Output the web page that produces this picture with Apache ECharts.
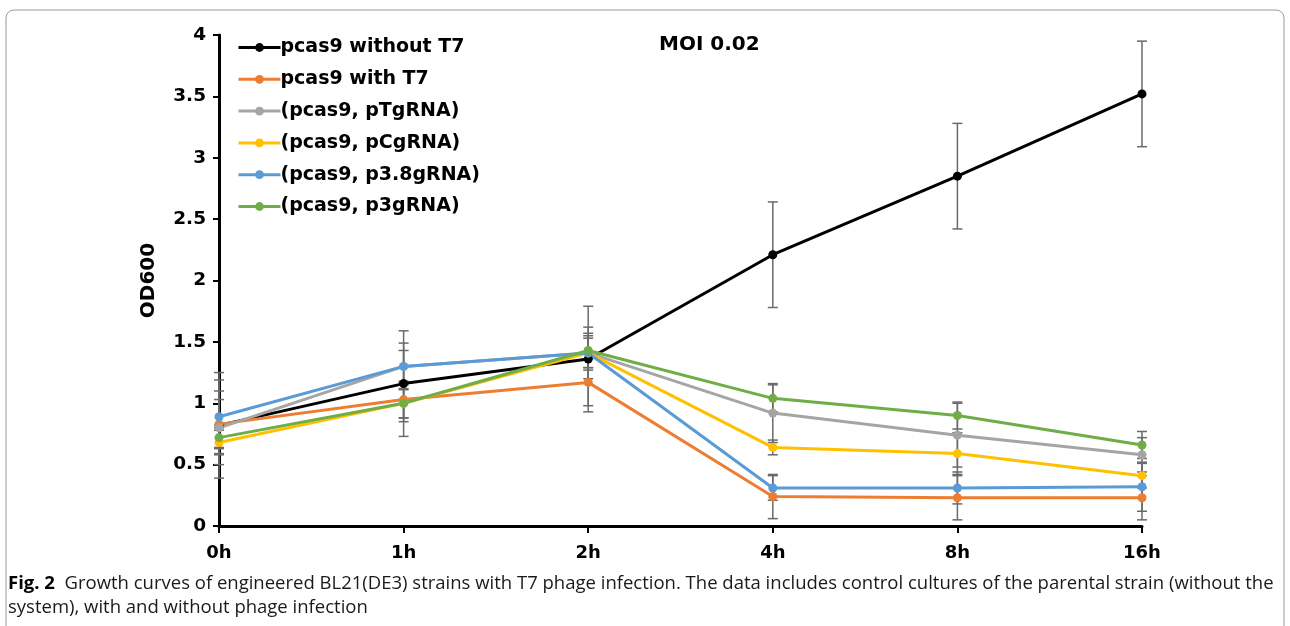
<!DOCTYPE html>
<html>
<head>
<meta charset="utf-8">
<script src="https://cdn.jsdelivr.net/npm/echarts@6/dist/echarts.min.js"></script>
<style>
html,body{margin:0;padding:0;background:#fff;}
#chart{width:1290px;height:626px;}
</style>
</head>
<body>
<div id="chart"></div>
<script>
const categories = ['0h', '1h', '2h', '4h', '8h', '16h'];
const yTicks = ['0', '0.5', '1', '1.5', '2', '2.5', '3', '3.5', '4'];
const seriesNames = ['pcas9 without T7', 'pcas9 with T7', '(pcas9, pTgRNA)', '(pcas9, pCgRNA)', '(pcas9, p3.8gRNA)', '(pcas9, p3gRNA)'];
const withoutT7 = [0.82, 1.16, 1.36, 2.21, 2.85, 3.52];
const withT7 = [0.83, 1.03, 1.17, 0.24, 0.23, 0.23];
const pTgRNA = [0.80, 1.30, 1.41, 0.92, 0.74, 0.58];
const pCgRNA = [0.68, 1.00, 1.41, 0.64, 0.59, 0.41];
const p38gRNA = [0.89, 1.30, 1.41, 0.31, 0.31, 0.32];
const p3gRNA = [0.72, 1.00, 1.43, 1.04, 0.90, 0.66];
const errWithoutT7 = [0.43, 0.43, 0.43, 0.43, 0.43, 0.43];
const errWithT7 = [0.20, 0.15, 0.19, 0.18, 0.18, 0.18];
const errTg = [0.30, 0.13, 0.21, 0.24, 0.26, 0.14];
const errCg = [0.10, 0.15, 0.12, 0.06, 0.17, 0.10];
const errP38 = [0.30, 0.19, 0.14, 0.10, 0.13, 0.20];
const errP3 = [0.08, 0.12, 0.14, 0.11, 0.11, 0.11];
const colors = ['#000000', '#ED7D31', '#A5A5A5', '#FFC000', '#5B9BD5', '#70AD47'];
const values = [withoutT7, withT7, pTgRNA, pCgRNA, p38gRNA, p3gRNA];
const errors = [errWithoutT7, errWithT7, errTg, errCg, errP38, errP3];

const FONT = '"DejaVu Sans", "Open Sans", sans-serif';
const CAP_FONT = '"Open Sans", "Noto Sans", sans-serif';
const chart = echarts.init(document.getElementById('chart'), null, {renderer: 'canvas'});

const errData = [];
values.forEach((vals, s) => {
  vals.forEach((v, i) => errData.push([i, v, errors[s][i]]));
});

const lineSeries = values.map((vals, s) => ({
  name: seriesNames[s],
  type: 'line',
  data: vals,
  z: 3,
  symbol: 'circle',
  symbolSize: 9,
  showSymbol: true,
  lineStyle: {color: colors[s], width: 3},
  itemStyle: {color: colors[s]},
  emphasis: {disabled: true},
  animation: false
}));

const errSeries = {
  type: 'custom',
  z: 2,
  silent: true,
  animation: false,
  data: errData,
  renderItem: function (params, api) {
    const x = api.value(0), y = api.value(1), e = api.value(2);
    const top = api.coord([x, y + e]);
    const bot = api.coord([x, y - e]);
    const hw = 5;
    const st = {stroke: '#6a6a6a', lineWidth: 1.5};
    return {
      type: 'group',
      children: [
        {type: 'line', shape: {x1: top[0], y1: top[1], x2: bot[0], y2: bot[1]}, style: st},
        {type: 'line', shape: {x1: top[0] - hw, y1: top[1], x2: top[0] + hw, y2: top[1]}, style: st},
        {type: 'line', shape: {x1: bot[0] - hw, y1: bot[1], x2: bot[0] + hw, y2: bot[1]}, style: st}
      ]
    };
  }
};

const option = {
  backgroundColor: '#ffffff',
  animation: false,
  grid: {left: 219, right: 148, top: 35, bottom: 100, containLabel: false},
  legend: {
    orient: 'vertical',
    left: 232,
    top: 33,
    itemWidth: 42,
    itemHeight: 11,
    itemGap: 12.8,
    data: seriesNames,
    lineStyle: {width: 3},
    textStyle: {fontFamily: FONT, fontWeight: 'bold', fontSize: 19, color: '#000', padding: [0, 0, 0, -5]}
  },
  xAxis: {
    type: 'category',
    data: categories,
    boundaryGap: false,
    axisLine: {lineStyle: {color: '#000', width: 3}},
    axisTick: {show: true, alignWithLabel: true, length: 7, lineStyle: {color: '#000', width: 2}},
    axisLabel: {fontFamily: FONT, fontWeight: 'bold', fontSize: 18, color: '#000', margin: 18},
    splitLine: {show: false}
  },
  yAxis: {
    type: 'value',
    min: 0,
    max: 4,
    interval: 0.5,
    name: 'OD600',
    nameLocation: 'middle',
    nameGap: 60,
    nameRotate: 90,
    nameTextStyle: {fontFamily: FONT, fontWeight: 'bold', fontSize: 20, color: '#000'},
    axisLine: {show: true, lineStyle: {color: '#000', width: 3}},
    axisTick: {show: true, length: 6, lineStyle: {color: '#000', width: 2}},
    axisLabel: {fontFamily: FONT, fontWeight: 'bold', fontSize: 18.5, color: '#000', margin: 13,
      formatter: function (v) { const i = Math.round(v / 0.5); return yTicks[i] !== undefined ? yTicks[i] : String(v); }},
    splitLine: {show: false}
  },
  graphic: [
    {type: 'rect', z: -1, shape: {x: 6, y: 10, width: 1278, height: 660, r: 8}, style: {fill: 'none', stroke: '#9a9a9a', lineWidth: 1}},
    {type: 'text', left: 659, top: 35, style: {text: 'MOI 0.02', font: 'bold 20px ' + FONT, fill: '#000'}},
    {type: 'text', left: 8, top: 572, style: {
      text: '{b|Fig. 2}  Growth curves of engineered BL21(DE3) strains with T7 phage infection. The data includes control cultures of the parental strain (without the\nsystem), with and without phage infection',
      rich: {b: {fontFamily: CAP_FONT, fontWeight: 'bold', fontSize: 18.5, fill: '#000'}},
      fontFamily: CAP_FONT, fontSize: 18.5, lineHeight: 24, fill: '#1a1a1a'
    }}
  ],
  series: [errSeries].concat(lineSeries)
};
chart.setOption(option);
</script>
</body>
</html>
